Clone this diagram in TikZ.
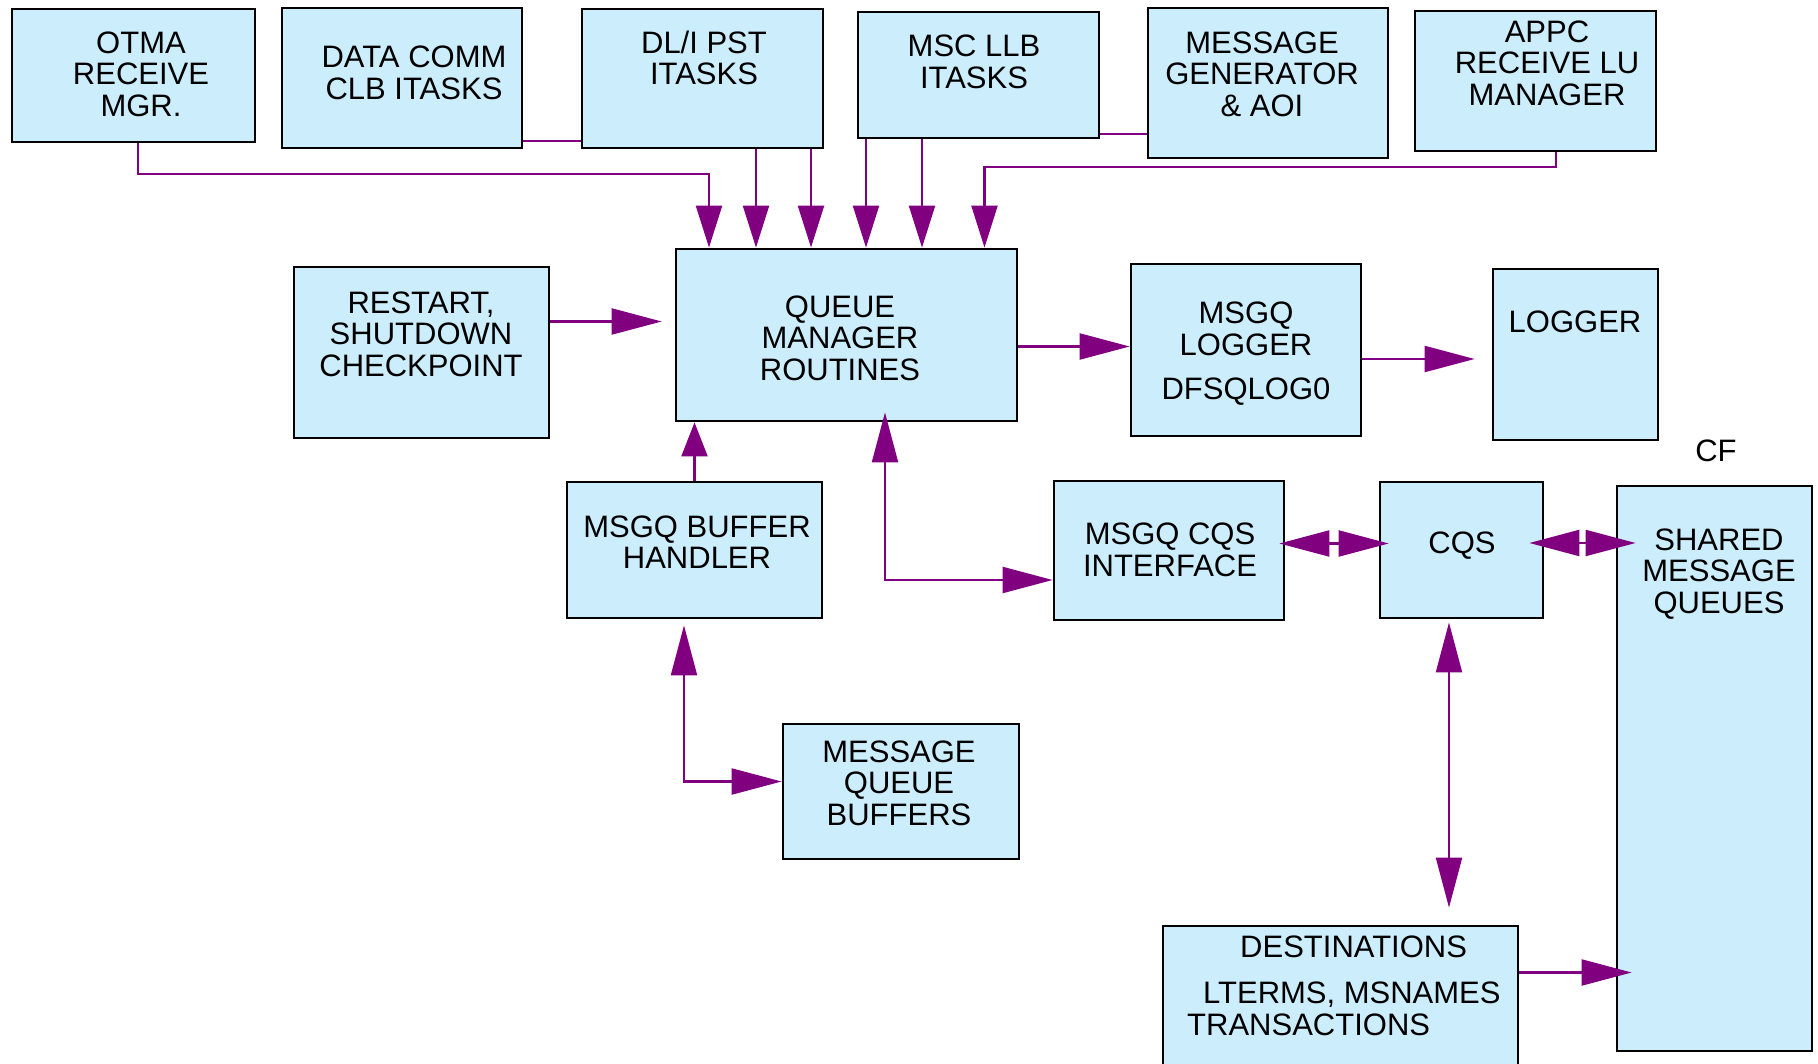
\documentclass[tikz,border=0pt]{standalone}
\usepackage{fontspec}
\setmainfont{Liberation Sans}
\usetikzlibrary{arrows.meta}

\definecolor{boxfill}{RGB}{204,238,252}
\definecolor{linkpurple}{RGB}{128,0,128}

\begin{document}
\begin{tikzpicture}
		[
			x=1pt, y=-1pt,
			box/.style={draw, rectangle, line width=2.8pt, fill=boxfill, inner sep=0pt},
			lbl/.style={align=center, inner sep=0pt, yshift=-3pt, font=\fontsize{31}{31.6}\selectfont},
			wire/.style={draw=linkpurple, line width=2.2pt},
			feed/.style={wire, -{Triangle[length=42pt,width=26pt]}},
			oneway/.style={wire, -{Triangle[length=50pt,width=26pt]}},
			twoway/.style={wire, {Triangle[length=50pt,width=26pt]}-{Triangle[length=50pt,width=26pt]}}
		]

		\useasboundingbox (0,0) rectangle (1818,1064);

		% top row
		\node[box, minimum width=243pt, minimum height=133pt] (otma) at (133.5,75.5) {};
		\node[box, minimum width=240pt, minimum height=140pt] (datacomm) at (402,78) {};
		\node[box, minimum width=241pt, minimum height=139pt] (dlipst) at (702.5,78.5) {};
		\node[box, minimum width=241pt, minimum height=126pt] (msc) at (978.5,75) {};
		\node[box, minimum width=240pt, minimum height=150pt] (msggen) at (1268,83) {};
		\node[box, minimum width=241pt, minimum height=140pt] (appc) at (1535.5,81) {};

		% middle
		\node[box, minimum width=341pt, minimum height=172pt] (qm) at (846.5,335) {};
		\node[box, minimum width=255pt, minimum height=171pt] (restart) at (421.5,352.5) {};
		\node[box, minimum width=230pt, minimum height=172pt] (msgqlogger) at (1246,350) {};
		\node[box, minimum width=165pt, minimum height=171pt] (logger) at (1575.5,354.5) {};
		\node[box, minimum width=255pt, minimum height=136pt] (buffh) at (694.5,550) {};
		\node[box, minimum width=230pt, minimum height=139pt] (msgqcqs) at (1169,550.5) {};
		\node[box, minimum width=163pt, minimum height=136pt] (cqs) at (1461.5,550) {};
		\node[box, minimum width=195pt, minimum height=565pt] (shared) at (1714.5,768.5) {};

		% bottom
		\node[box, minimum width=236pt, minimum height=135pt] (mqbuf) at (901,791.5) {};
		\node[box, minimum width=355pt, minimum height=143pt] (dest) at (1340.5,997.5) {};

		% texts
		\node[lbl] (otma-txt) at (141,71) {OTMA\\RECEIVE\\MGR.};
		\node[lbl] (datacomm-txt) at (414,70) {DATA COMM\\CLB ITASKS};
		\node[lbl] (dlipst-txt) at (704,55) {DL/I PST\\ITASKS};
		\node[lbl] (msc-txt) at (974,59) {MSC LLB\\ITASKS};
		\node[lbl] (msggen-txt) at (1262,71) {MESSAGE\\GENERATOR\\\& AOI};
		\node[lbl] (appc-txt) at (1547,60) {APPC\\RECEIVE LU\\MANAGER};
		\node[lbl] (qm-txt) at (840,335) {QUEUE\\MANAGER\\ROUTINES};
		\node[lbl] (restart-txt) at (421,331) {RESTART,\\SHUTDOWN\\CHECKPOINT};
		\node[lbl] (msgqlogger-txt) at (1246,351) {MSGQ\\LOGGER\\[12.8pt]DFSQLOG0};
		\node[lbl] (logger-txt) at (1575,319) {LOGGER};
		\node[lbl] (cf) at (1716,448) {CF};
		\node[lbl] (buffh-txt) at (697,539) {MSGQ BUFFER\\HANDLER};
		\node[lbl] (msgqcqs-txt) at (1170,547) {MSGQ CQS\\INTERFACE};
		\node[lbl] (cqs-txt) at (1462,543) {CQS};
		\node[lbl] (shared-txt) at (1719,571) {SHARED\\MESSAGE\\QUEUES};
		\node[lbl] (mqbuf-txt) at (899,780) {MESSAGE\\QUEUE\\BUFFERS};
		\node[lbl, align=left, anchor=north west] (dest-txt) at (1187,933)
			{\hspace*{53pt}DESTINATIONS\\[14pt]\hspace*{16pt}LTERMS, MSNAMES\\TRANSACTIONS};

		% links into the queue manager
		\draw[feed] ([xshift=4.5pt]otma.south) -- ++(0,31) -| ([xshift=-137.5pt]qm.north);
		\draw[feed] ([xshift=53.5pt]dlipst.south) -- ([xshift=53.5pt]dlipst.south |- qm.north);
		\draw[feed] ([xshift=108.5pt]dlipst.south) -- ([xshift=108.5pt]dlipst.south |- qm.north);
		\draw[feed] ([xshift=-112.5pt]msc.south) -- ([xshift=-112.5pt]msc.south |- qm.north);
		\draw[feed] ([xshift=-56.5pt]msc.south) -- ([xshift=-56.5pt]msc.south |- qm.north);
		\draw[feed] ([xshift=20.5pt]appc.south) -- ++(0,15) -| ([xshift=138pt]qm.north);
		\draw[wire] ([yshift=8pt]datacomm.south east) -- ([yshift=8pt]datacomm.south east -| dlipst.west);
		\draw[wire] ([yshift=5pt]msc.south east) -- ([yshift=5pt]msc.south east -| msggen.west);

		\draw[oneway] ([yshift=31pt]restart.east) -- ([yshift=31pt,xshift=-13pt]restart.east -| qm.west);
		\draw[oneway] ([yshift=-11.5pt]qm.east) -- ([yshift=-11.5pt]qm.east -| msgqlogger.west);
		\draw[oneway] ([yshift=-9pt]msgqlogger.east) -- ([yshift=-9pt,xshift=-17pt]msgqlogger.east -| logger.west);
		\draw[wire, -{Triangle[length=34pt,width=26pt]}] (buffh.north) -- (buffh.north |- qm.south);
		\draw[twoway] ([xshift=38.5pt,yshift=10pt]qm.south) |- ([yshift=-29.5pt]msgqcqs.west);

		% cqs side
		\draw[twoway, shorten <=-6pt, shorten >=-10pt] ([yshift=7pt]msgqcqs.east) -- ([yshift=7pt]msgqcqs.east -| cqs.west);
		\draw[twoway, shorten <=-15pt, shorten >=-20pt] ([yshift=7pt]cqs.east) -- ([yshift=7pt]cqs.east -| shared.west);
		\draw[twoway, shorten <=6pt] ([xshift=-10.5pt]buffh.south) |- ([yshift=10pt]mqbuf.west);
		\draw[twoway, shorten <=3pt, shorten >=17pt] ([xshift=-12.5pt]cqs.south) -- ([xshift=-12.5pt]cqs.south |- dest.north);
		\draw[oneway, shorten >=-16pt] ([yshift=25pt]dest.east) -- ([yshift=25pt]dest.east -| shared.west);
	\end{tikzpicture}
\end{document}
